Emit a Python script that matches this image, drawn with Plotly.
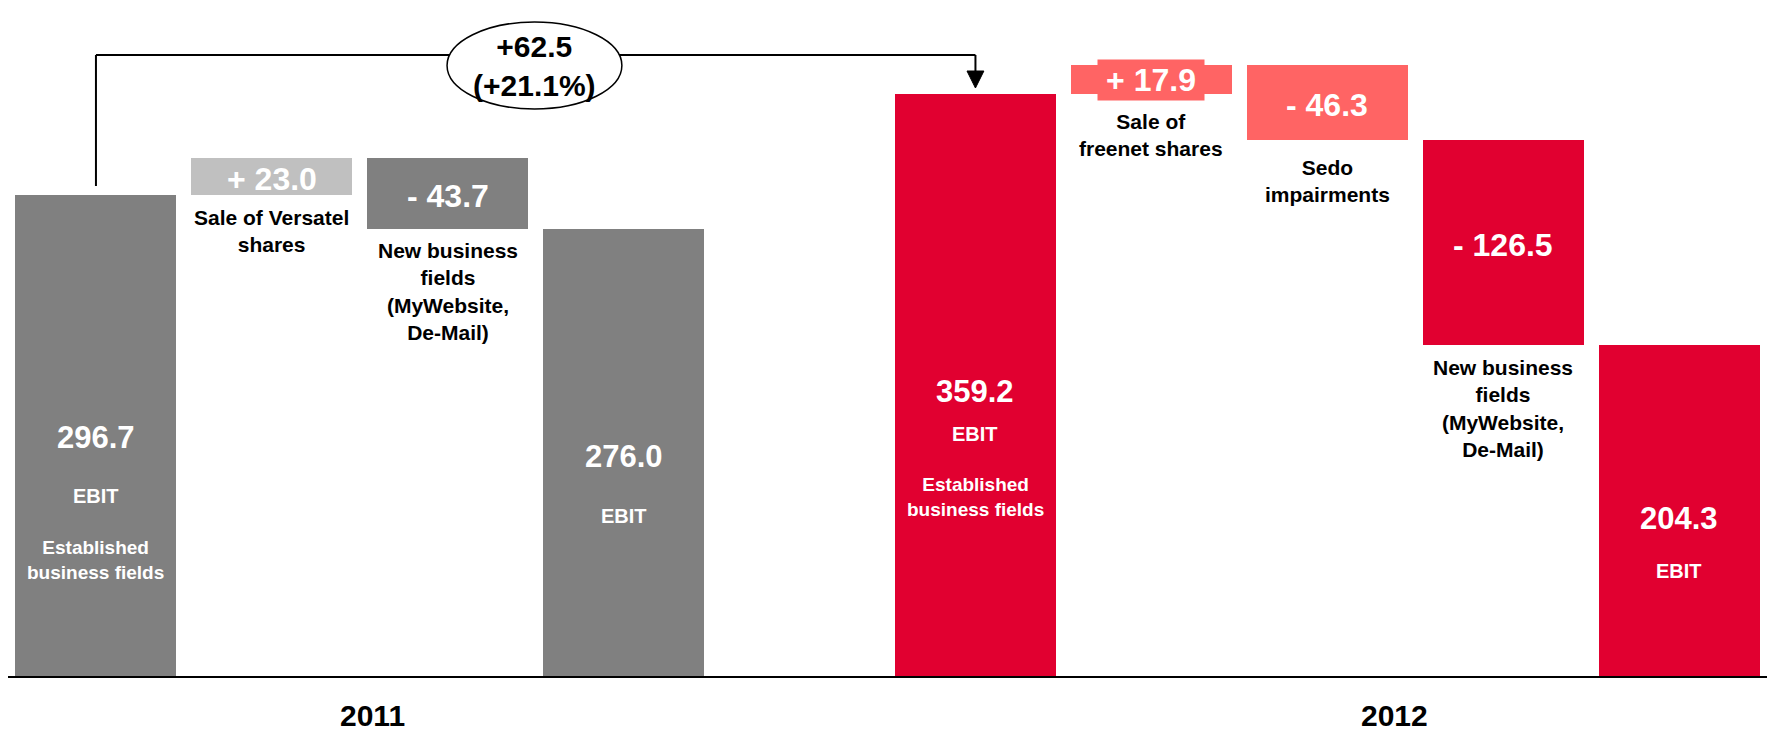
import plotly.graph_objects as go

# EBIT bridge 2011 -> 2012 (EUR m)
positions = [0, 1, 2, 3, 5, 6, 7, 8, 9]
bar_kinds = ["total", "delta", "delta", "total", "total", "delta", "delta", "delta", "total"]
bar_values = [296.7, 23.0, -43.7, 276.0, 359.2, 17.9, -46.3, -126.5, 204.3]
bar_colors = ["#808080", "#C0C0C0", "#808080", "#808080",
              "#E10030", "#FF6464", "#FF6464", "#E10030", "#E10030"]
delta_labels = {1: "Sale of Versatel<br>shares",
                2: "New business<br>fields<br>(MyWebsite,<br>De-Mail)",
                6: "Sale of<br>freenet shares",
                7: "Sedo<br>impairments",
                8: "New business<br>fields<br>(MyWebsite,<br>De-Mail)"}
total_captions = {0: "Established<br>business fields",
                  5: "Established<br>business fields"}
years = ["2011", "2012"]

# running totals -> floating bar bases and heights
bases, heights = [], []
running = 0.0
for kind, v in zip(bar_kinds, bar_values):
    if kind == "total":
        running = v
        bases.append(0.0)
        heights.append(v)
    else:
        start = running
        running = running + v
        bases.append(min(start, running))
        heights.append(abs(v))

FONT = "Liberation Sans Narrow, Arial Narrow, Liberation Sans, Arial, sans-serif"
PLOT_H = 676
Y_MAX = 417.3


def yd(px):
    """Pixel row inside the plot area -> data value."""
    return (PLOT_H - px) / PLOT_H * Y_MAX


fig = go.Figure()
fig.add_trace(go.Bar(
    x=positions, y=heights, base=bases, width=0.915,
    marker=dict(color=bar_colors, line=dict(width=0)),
    hoverinfo="skip", showlegend=False,
))

ann = []
# value labels inside the floating bars
for p, kind, v, b, h, c in zip(positions, bar_kinds, bar_values, bases, heights, bar_colors):
    if kind == "delta":
        txt = ("+ " if v > 0 else "- ") + f"{abs(v):.1f}"
        a = dict(x=p, y=b + h / 2, text=f"<b>{txt}</b>", showarrow=False,
                 font=dict(family=FONT, size=32, color="white"), yshift=-2)
        if p == 6:
            a.update(bgcolor=c, width=104, height=38, yshift=0)
        ann.append(a)

# big numbers and captions inside the total bars
total_num_px = {0: 437, 3: 456, 5: 391, 9: 518}
total_ebit_px = {0: 496, 3: 516, 5: 434, 9: 571}
total_cap_px = {0: 560, 5: 497}
for p, kind, v in zip(positions, bar_kinds, bar_values):
    if kind == "total":
        ann.append(dict(x=p, y=yd(total_num_px[p]), text=f"<b>{v:.1f}</b>", showarrow=False,
                        font=dict(family=FONT, size=31, color="white")))
        ann.append(dict(x=p, y=yd(total_ebit_px[p]), text="<b>EBIT</b>", showarrow=False,
                        font=dict(family=FONT, size=20, color="white")))
        if p in total_captions:
            ann.append(dict(x=p, y=yd(total_cap_px[p]), text=f"<b>{total_captions[p]}</b>",
                            showarrow=False, font=dict(family=FONT, size=19, color="white")))

# black explanatory labels next to the delta bars
delta_label_px = {1: 231, 2: 291, 6: 135, 7: 181, 8: 408}
for p, txt in delta_labels.items():
    ann.append(dict(x=p, y=yd(delta_label_px[p]), text=f"<b>{txt}</b>", showarrow=False,
                    font=dict(family=FONT, size=21, color="black")))

# year labels under the axis
for x, t in zip([1.57, 7.38], years):
    ann.append(dict(x=x, y=-39 / PLOT_H, yref="paper", yanchor="middle", height=28,
                    text=f"<b>{t}</b>", showarrow=False, borderpad=0,
                    font=dict(family=FONT, size=30, color="black")))

# bracket between the two established-business totals
ebit_2011 = bar_values[0]
ebit_2012 = bar_values[4]
diff = ebit_2012 - ebit_2011
pct = diff / ebit_2011 * 100
bracket_y = yd(55)
x0, x1 = positions[0], positions[4]
shapes = [
    dict(type="line", x0=x0, x1=x0, y0=yd(186), y1=bracket_y, line=dict(color="black", width=2)),
    dict(type="line", x0=x0, x1=x1, y0=bracket_y, y1=bracket_y, line=dict(color="black", width=2)),
    dict(type="line", x0=x1, x1=x1, y0=bracket_y, y1=yd(73), line=dict(color="black", width=2)),
    dict(type="path",
         path=f"M {x1 - 0.048} {yd(71)} L {x1 + 0.048} {yd(71)} L {x1} {yd(88)} Z",
         fillcolor="black", line=dict(color="black", width=1)),
    dict(type="circle", x0=1.996, x1=2.99, y0=yd(109), y1=yd(22),
         fillcolor="white", line=dict(color="black", width=1.5), layer="above"),
]
ann.append(dict(x=2.493, y=yd(66), text=f"<b>+{diff:.1f}<br>(+{pct:.1f}%)</b>", showarrow=False,
                font=dict(family=FONT, size=30, color="black")))

fig.update_layout(
    width=1767, height=730, autosize=False,
    margin=dict(l=8, r=0, t=0, b=730 - PLOT_H),
    paper_bgcolor="white", plot_bgcolor="white",
    xaxis=dict(range=[-0.5, 9.5], showticklabels=False, showgrid=False, zeroline=False,
               showline=True, linecolor="black", linewidth=2, ticks=""),
    yaxis=dict(range=[0, Y_MAX], visible=False),
    annotations=ann, shapes=shapes, bargap=0,
)

fig.write_html("out.html")
